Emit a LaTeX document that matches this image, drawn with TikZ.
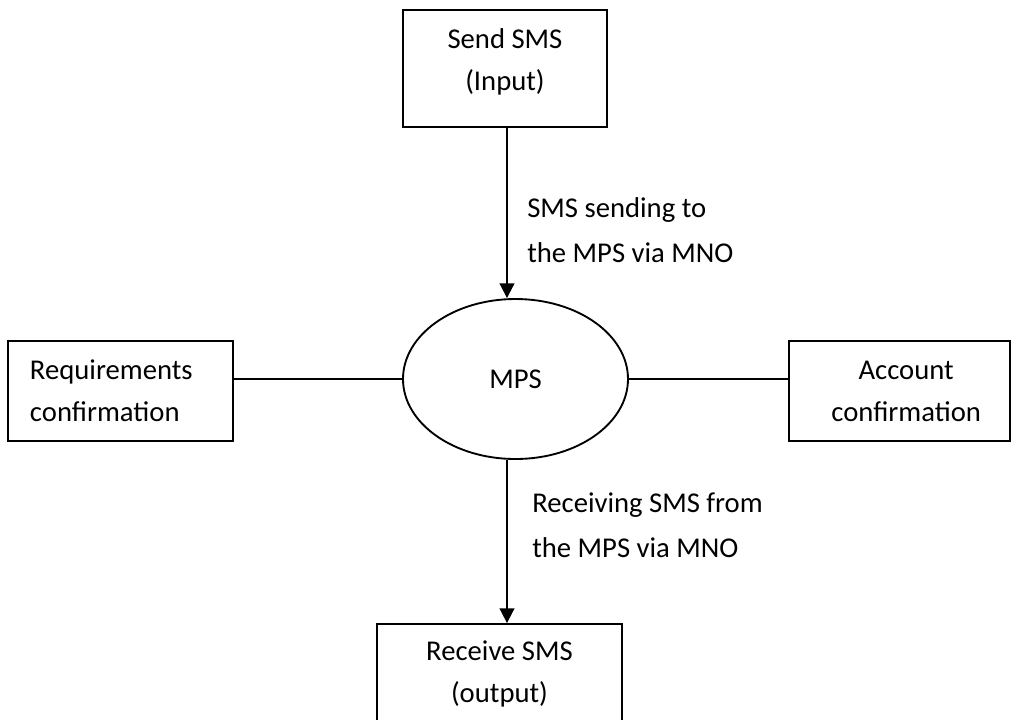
\documentclass[tikz,border=0pt]{standalone}
\usepackage{fontspec}
\setmainfont{Carlito}
\usetikzlibrary{arrows.meta,shapes.geometric}
\begin{document}
\begin{tikzpicture}[x=0.75pt,y=-0.75pt,
  txt/.style={font=\fontsize{21.5pt}{31.5pt}\selectfont},
  box/.style={draw,line width=1.4pt,txt,align=center,inner sep=0pt},
  arr/.style={line width=1.4pt,-{Triangle[width=11pt,length=11pt]}},
  link/.style={line width=1.4pt}]
\useasboundingbox (0,0) rectangle (1015,719);
\clip (0,0) rectangle (1015,719);
\node[box,minimum width=153pt,minimum height=87.75pt] (send) at (505,68.5) {Send SMS\\(Input)\rule[-14pt]{0pt}{0pt}};
\node[draw,ellipse,line width=1.4pt,txt,minimum width=168.75pt,minimum height=120pt,inner sep=0pt] (mps) at (515.5,379) {MPS};
\node[box,align=left,text width=135.75pt,inner xsep=16.5pt,minimum height=75pt] (req) at (120.5,391) {Requirements\\confirmation};
\node[box,minimum width=165.75pt,minimum height=75pt] (acc) at (899.5,391) {\hspace*{10pt}Account\\\hspace*{10pt}confirmation};
\node[box,minimum width=183.75pt,minimum height=75pt] (recv) at (499.5,674) {Receive SMS\\(output)};
\node[txt,align=left,anchor=west,inner sep=0pt,font=\fontsize{21.5pt}{33.75pt}\selectfont] (lab1) at (527,230) {SMS sending to\\the MPS via MNO};
\node[txt,align=left,anchor=west,inner sep=0pt,font=\fontsize{21.5pt}{33.75pt}\selectfont] (lab2) at (532,525) {Receiving SMS from\\the MPS via MNO};
\draw[arr] (send.south) ++(2,0) coordinate (s1) -- (s1 |- mps.north);
\draw[arr] (s1 |- mps.south) -- (s1 |- recv.north);
\draw[link] (req.east |- mps.west) -- (mps.west);
\draw[link] (mps.east) -- (acc.west |- mps.east);
\end{tikzpicture}
\end{document}
